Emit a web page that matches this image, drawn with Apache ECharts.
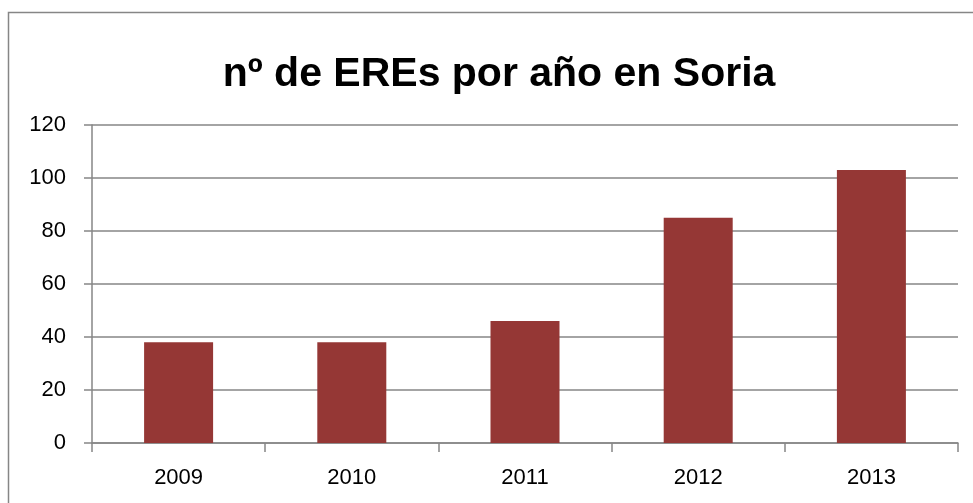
<!DOCTYPE html>
<html><head><meta charset="utf-8">
<script src="https://cdn.jsdelivr.net/npm/echarts@6/dist/echarts.min.js"></script>
<style>html,body{margin:0;padding:0;background:#fff}#c{width:973px;height:503px}</style>
</head><body><div id="c"></div>
<script>
const titleText = 'nº de EREs por año en Soria';
const categories = ['2009', '2010', '2011', '2012', '2013'];
const values = [38, 38, 46, 85, 103];

const chart = echarts.init(document.getElementById('c'), null, {renderer: 'canvas'});
const fontFam = '"Liberation Sans", Arial, sans-serif';
chart.setOption({
  animation: false,
  backgroundColor: '#fff',
  graphic: [{
    type: 'rect', silent: true,
    shape: {x: 8.5, y: 12.5, width: 980, height: 500},
    style: {fill: 'none', stroke: '#868686', lineWidth: 1.5}
  }],
  title: {
    text: titleText, left: 494, top: 49, textAlign: 'center',
    textStyle: {fontFamily: fontFam, fontWeight: 'bold', fontSize: 41, color: '#000'}
  },
  grid: {left: 92, right: 15, top: 125, bottom: 60},
  xAxis: {
    type: 'category', data: categories,
    axisLine: {lineStyle: {color: '#868686', width: 1.5}},
    axisTick: {show: true, length: 9, lineStyle: {color: '#868686', width: 1.5}},
    axisLabel: {fontFamily: fontFam, fontSize: 22, color: '#000', margin: 24}
  },
  yAxis: {
    type: 'value', min: 0, max: 120, interval: 20,
    axisLine: {show: true, lineStyle: {color: '#868686', width: 1.5}},
    axisTick: {show: true, length: 8, lineStyle: {color: '#868686', width: 1.5}},
    splitLine: {lineStyle: {color: '#868686', width: 1.5}},
    axisLabel: {fontFamily: fontFam, fontSize: 22, color: '#000', margin: 26}
  },
  series: [{
    type: 'bar', data: values, barWidth: 69,
    itemStyle: {color: '#953735'}
  }]
});
</script></body></html>
